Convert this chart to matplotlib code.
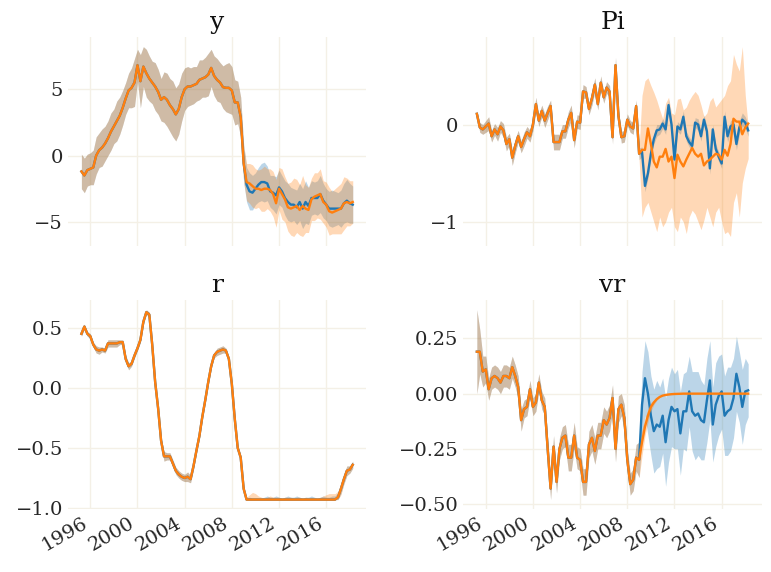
import numpy as np
import pandas as pd
import matplotlib
matplotlib.use('Agg')
import matplotlib.pyplot as plt
import matplotlib.dates as mdates

# quarterly sample, 1995Q2 - 2018Q2; paths coincide up to 2009Q1 (first 56 obs)
dates = pd.date_range('1995-04-01', periods=93, freq='QS')

# ---- y ----
y_hist = [-1.2, -1.5, -1.1, -1.0, -0.9, 0.0, 0.4, 0.6, 0.9, 1.3,
          1.8, 2.2, 2.6, 3.0, 3.6, 4.3, 4.9, 5.1, 5.5, 6.8,
          5.6, 6.7, 6.2, 5.8, 5.5, 5.2, 4.8, 4.2, 4.4, 4.2,
          3.8, 3.5, 3.1, 3.5, 4.4, 5.0, 5.2, 5.2, 5.3, 5.4,
          5.7, 5.8, 5.9, 6.1, 6.6, 6.0, 5.7, 5.5, 5.15, 5.1,
          5.1, 4.9, 4.0, 4.0, 2.9, -0.6]
y_blue_post = [-2.2, -2.7, -2.8, -2.5, -2.2, -2.0, -2.0, -2.1, -2.7, -2.8,
               -3.0, -2.4, -2.7, -3.2, -3.5, -3.7, -3.7, -3.9, -3.5, -4.0,
               -3.5, -3.8, -3.2, -3.2, -3.2, -2.9, -3.4, -3.7, -4.0, -4.0,
               -4.0, -4.0, -4.0, -3.6, -3.4, -3.6, -3.7]
y_orange_post = [-2.0, -2.1, -2.3, -2.5, -2.5, -2.6, -2.5, -2.5, -2.6, -2.9,
                 -3.6, -2.5, -2.9, -3.3, -3.9, -4.0, -3.9, -3.8, -4.1, -3.8,
                 -4.0, -4.1, -3.3, -3.1, -3.0, -2.9, -3.5, -3.7, -4.2, -4.3,
                 -4.2, -4.1, -4.0, -3.6, -3.5, -3.6, -3.5]
y_band_hist = [1.3, 1.3, 1.2, 1.2, 1.3, 1.4, 1.3, 1.4, 1.3, 1.3,
               1.4, 1.3, 1.5, 1.4, 1.3, 1.2, 1.3, 1.5, 1.8, 1.2,
               2.0, 1.5, 1.8, 1.7, 1.6, 1.8, 1.7, 1.6, 1.9, 2.0,
               2.0, 2.1, 2.0, 1.9, 1.8, 1.6, 1.5, 1.4, 1.4, 1.3,
               1.5, 1.4, 1.5, 1.6, 1.4, 1.5, 1.6, 1.5, 1.6, 1.8,
               1.9, 1.8, 1.7, 1.6, 1.5, 1.4]
y_band_blue_post = [1.3, 1.4, 1.3, 1.2, 1.3, 1.4, 1.5, 1.3, 1.2, 1.3,
                    1.4, 1.3, 1.2, 1.3, 1.4, 1.3, 1.2, 1.3, 1.4, 1.5,
                    1.6, 1.4, 1.3, 1.2, 1.3, 1.4, 1.3, 1.2, 1.3, 1.4,
                    1.3, 1.2, 1.4, 1.5, 1.6, 1.5, 1.4]
y_band_orange_post = [1.4, 1.5, 1.6, 1.5, 1.4, 1.6, 1.7, 1.5, 1.6, 1.7,
                      1.8, 1.6, 1.9, 1.7, 1.8, 2.0, 2.2, 2.0, 1.9, 2.3,
                      1.8, 1.7, 1.6, 1.8, 1.7, 1.9, 1.6, 1.7, 1.8, 1.6,
                      1.7, 1.8, 1.9, 2.0, 1.8, 1.7, 1.6]

# ---- Pi ----
pi_hist = [0.11, -0.03, -0.05, -0.02, 0.01, -0.12, -0.05, -0.10, -0.02, -0.06,
           -0.20, -0.15, -0.34, -0.22, -0.12, -0.23, -0.15, -0.08, -0.12, 0.0,
           0.21, 0.04, 0.14, 0.04, 0.12, 0.19, -0.18, -0.18, -0.18, -0.07,
           -0.07, 0.05, 0.12, -0.16, 0.03, 0.02, 0.34, 0.33, 0.16, 0.27,
           0.41, 0.21, 0.43, 0.28, 0.38, 0.34, -0.13, 0.61, 0.09, -0.13,
           -0.12, 0.05, -0.02, -0.04, 0.19, -0.30]
pi_blue_post = [-0.28, -0.63, -0.50, -0.30, -0.15, -0.06, -0.05, 0.01, -0.05, 0.20,
                0.0, -0.36, -0.02, -0.05, 0.08, -0.12, -0.18, -0.22, 0.02, 0.0,
                -0.12, 0.05, -0.07, -0.45, -0.05, -0.25, -0.33, -0.40, 0.08, -0.12,
                -0.02, 0.0, -0.20, -0.03, 0.05, 0.02, -0.06]
pi_orange_post = [-0.26, -0.26, -0.04, -0.20, -0.38, -0.44, -0.33, -0.33, -0.25, -0.38,
                  -0.33, -0.55, -0.31, -0.38, -0.43, -0.36, -0.30, -0.24, -0.30, -0.33,
                  -0.30, -0.42, -0.38, -0.36, -0.33, -0.30, -0.31, -0.36, -0.26, -0.32,
                  -0.20, 0.06, 0.03, 0.03, -0.10, -0.03, 0.01]
pi_band_hist = [0.03, 0.05, 0.05, 0.06, 0.07, 0.06, 0.06, 0.07, 0.06, 0.07,
                0.07, 0.06, 0.08, 0.07, 0.06, 0.06, 0.07, 0.06, 0.06, 0.06,
                0.07, 0.06, 0.06, 0.07, 0.07, 0.06, 0.08, 0.08, 0.08, 0.07,
                0.07, 0.08, 0.08, 0.08, 0.07, 0.07, 0.07, 0.06, 0.06, 0.07,
                0.07, 0.06, 0.07, 0.06, 0.06, 0.06, 0.07, 0.08, 0.06, 0.06,
                0.06, 0.06, 0.06, 0.06, 0.06, 0.06]
pi_band_blue_post = [0.05, 0.06, 0.05, 0.05, 0.05, 0.06, 0.05, 0.05, 0.05, 0.06,
                     0.05, 0.05, 0.05, 0.05, 0.06, 0.05, 0.05, 0.05, 0.05, 0.06,
                     0.05, 0.05, 0.05, 0.06, 0.05, 0.05, 0.05, 0.05, 0.06, 0.06,
                     0.06, 0.07, 0.06, 0.07, 0.07, 0.06, 0.06]
pi_orange_upper_post = [0.30, 0.45, 0.48, 0.40, 0.33, 0.25, 0.15, 0.06, 0.22, 0.28,
                        0.12, 0.10, 0.26, 0.27, 0.15, 0.18, 0.25, 0.30, 0.34, 0.30,
                        0.20, 0.08, 0.12, 0.24, 0.28, 0.18, 0.22, 0.26, 0.30, 0.40,
                        0.45, 0.72, 0.62, 0.55, 0.80, 0.30, -0.02]
pi_orange_lower_post = [-0.95, -0.85, -0.80, -0.90, -1.00, -1.10, -0.95, -1.05, -1.00, -0.90,
                        -0.85, -1.05, -1.10, -0.95, -1.00, -1.12, -0.95, -0.88, -0.92, -1.00,
                        -1.08, -0.98, -0.85, -0.95, -1.05, -0.90, -0.85, -1.00, -1.12, -1.10,
                        -1.15, -0.80, -0.70, -0.95, -0.60, -0.45, -0.35]

# ---- r ----
r_hist = [0.45, 0.51, 0.45, 0.43, 0.36, 0.32, 0.31, 0.32, 0.31, 0.37,
          0.37, 0.37, 0.37, 0.38, 0.38, 0.24, 0.18, 0.20, 0.27, 0.33,
          0.40, 0.55, 0.63, 0.61, 0.36, 0.05, -0.17, -0.44, -0.57, -0.57,
          -0.57, -0.63, -0.69, -0.72, -0.74, -0.75, -0.74, -0.76, -0.65, -0.52,
          -0.40, -0.24, -0.10, 0.05, 0.18, 0.27, 0.30, 0.31, 0.32, 0.31,
          0.24, 0.03, -0.26, -0.50, -0.58, -0.84]
r_post = [-0.93, -0.93, -0.93, -0.93, -0.93, -0.93, -0.93, -0.93, -0.93, -0.93,
          -0.93, -0.93, -0.93, -0.93, -0.93, -0.93, -0.93, -0.93, -0.93, -0.93,
          -0.93, -0.93, -0.93, -0.93, -0.93, -0.93, -0.93, -0.93, -0.93, -0.93,
          -0.93, -0.91, -0.84, -0.76, -0.69, -0.68, -0.64]
r_band_hist = [0.02, 0.02, 0.02, 0.02, 0.02, 0.03, 0.03, 0.02, 0.02, 0.03,
               0.03, 0.03, 0.03, 0.02, 0.02, 0.03, 0.03, 0.02, 0.02, 0.02,
               0.02, 0.02, 0.02, 0.02, 0.02, 0.02, 0.02, 0.03, 0.04, 0.03,
               0.03, 0.03, 0.03, 0.03, 0.03, 0.03, 0.04, 0.03, 0.03, 0.02,
               0.02, 0.02, 0.02, 0.02, 0.02, 0.02, 0.03, 0.03, 0.03, 0.02,
               0.02, 0.02, 0.02, 0.02, 0.02, 0.02]
r_band_blue_post = [0.01, 0.02, 0.01, 0.01, 0.01, 0.01, 0.02, 0.03, 0.02, 0.02,
                    0.03, 0.02, 0.01, 0.02, 0.03, 0.02, 0.02, 0.03, 0.02, 0.01,
                    0.02, 0.02, 0.03, 0.02, 0.01, 0.02, 0.03, 0.02, 0.02, 0.03,
                    0.03, 0.04, 0.04, 0.04, 0.04, 0.03, 0.03]
r_band_orange_post = [0.02, 0.04, 0.06, 0.05, 0.03, 0.02, 0.01, 0.02, 0.03, 0.02,
                      0.02, 0.02, 0.01, 0.02, 0.02, 0.02, 0.01, 0.02, 0.02, 0.01,
                      0.02, 0.01, 0.02, 0.01, 0.01, 0.02, 0.03, 0.04, 0.05, 0.05,
                      0.05, 0.05, 0.05, 0.04, 0.04, 0.03, 0.03]
r_floor = -0.93

# ---- vr ----
vr_hist = [0.19, 0.19, 0.10, 0.11, 0.02, 0.07, 0.08, 0.07, 0.05, 0.08,
           0.08, 0.07, 0.12, 0.08, 0.03, -0.12, -0.07, -0.06, 0.02, -0.06,
           -0.04, 0.05, -0.03, -0.06, -0.25, -0.43, -0.24, -0.40, -0.25, -0.20,
           -0.19, -0.29, -0.29, -0.19, -0.29, -0.30, -0.40, -0.40, -0.23, -0.20,
           -0.26, -0.19, -0.19, -0.12, -0.14, -0.11, -0.02, -0.25, -0.07, -0.05,
           -0.11, -0.30, -0.41, -0.39, -0.29, -0.30]
vr_blue_post = [-0.05, 0.07, 0.0, -0.10, -0.17, -0.14, -0.15, -0.10, -0.22, -0.12,
                -0.06, -0.08, -0.07, -0.18, -0.08, -0.08, 0.01, -0.08, -0.10, -0.09,
                -0.12, -0.13, -0.03, 0.06, -0.14, -0.05, -0.01, 0.01, -0.10, -0.08,
                -0.07, -0.02, 0.09, 0.03, -0.06, 0.01, 0.015]
vr_orange_post = [-0.22, -0.15, -0.10, -0.06, -0.04, -0.025, -0.015, -0.009, -0.006, -0.004,
                  -0.0025, -0.0015, -0.001, -0.0006, 0.0, 0.0, 0.0, 0.0, 0.0, 0.0,
                  0.0, 0.0, 0.0, 0.0, 0.0, 0.0, 0.0, 0.0, 0.0, 0.0,
                  0.0, 0.0, 0.0, 0.0, 0.0, 0.0, 0.0]
vr_band_hist = [0.19, 0.10, 0.07, 0.06, 0.05, 0.05, 0.05, 0.05, 0.05, 0.05,
                0.05, 0.05, 0.05, 0.05, 0.05, 0.05, 0.04, 0.04, 0.04, 0.04,
                0.04, 0.04, 0.04, 0.04, 0.05, 0.05, 0.05, 0.05, 0.05, 0.05,
                0.05, 0.06, 0.06, 0.06, 0.05, 0.05, 0.06, 0.06, 0.06, 0.06,
                0.06, 0.06, 0.06, 0.06, 0.06, 0.06, 0.06, 0.06, 0.06, 0.05,
                0.06, 0.05, 0.05, 0.05, 0.06, 0.08]
vr_band_blue_post = [0.15, 0.17, 0.19, 0.18, 0.19, 0.20, 0.18, 0.17, 0.20, 0.19,
                     0.18, 0.17, 0.18, 0.19, 0.17, 0.18, 0.16, 0.18, 0.20, 0.19,
                     0.18, 0.17, 0.19, 0.18, 0.17, 0.19, 0.18, 0.17, 0.18, 0.20,
                     0.19, 0.18, 0.17, 0.16, 0.17, 0.15, 0.12]
vr_band_orange_post = [0.06, 0.04, 0.03, 0.02, 0.01, 0.005, 0.0, 0.0, 0.0, 0.0,
                       0.0, 0.0, 0.0, 0.0, 0.0, 0.0, 0.0, 0.0, 0.0, 0.0,
                       0.0, 0.0, 0.0, 0.0, 0.0, 0.0, 0.0, 0.0, 0.0, 0.0,
                       0.0, 0.0, 0.0, 0.0, 0.0, 0.0, 0.0]

titles = ['y', 'Pi', 'r', 'vr']
yticks = [[-5, 0, 5], [-1, 0], [-1.0, -0.5, 0.0, 0.5], [-0.5, -0.25, 0.0, 0.25]]

blue = '#1f77b4'
orange = '#ff7f0e'


def join(a, b):
    out = np.array(a + b, dtype=float)
    assert len(out) == len(dates), len(out)
    return out


y_b, y_o = join(y_hist, y_blue_post), join(y_hist, y_orange_post)
y_bw, y_ow = join(y_band_hist, y_band_blue_post), join(y_band_hist, y_band_orange_post)

pi_b, pi_o = join(pi_hist, pi_blue_post), join(pi_hist, pi_orange_post)
pi_bw = join(pi_band_hist, pi_band_blue_post)
pi_h = np.array(pi_hist)
pi_band_h = np.array(pi_band_hist)
pi_o_lo = join(list(pi_h - pi_band_h), pi_orange_lower_post)
pi_o_hi = join(list(pi_h + pi_band_h), pi_orange_upper_post)

r_b, r_o = join(r_hist, r_post), join(r_hist, r_post)
r_bw, r_ow = join(r_band_hist, r_band_blue_post), join(r_band_hist, r_band_orange_post)

vr_b, vr_o = join(vr_hist, vr_blue_post), join(vr_hist, vr_orange_post)
vr_bw, vr_ow = join(vr_band_hist, vr_band_blue_post), join(vr_band_hist, vr_band_orange_post)

panels = [
    (y_b, y_b - y_bw, y_b + y_bw, y_o, y_o - y_ow, y_o + y_ow),
    (pi_b, pi_b - pi_bw, pi_b + pi_bw, pi_o, pi_o_lo, pi_o_hi),
    (r_b, np.maximum(r_b - r_bw, r_floor), r_b + r_bw,
     r_o, np.maximum(r_o - r_ow, r_floor), r_o + r_ow),
    (vr_b, vr_b - vr_bw, vr_b + vr_bw, vr_o, vr_o - vr_ow, vr_o + vr_ow),
]

plt.rcParams['font.family'] = 'DejaVu Serif'
fig, axes = plt.subplots(2, 2, figsize=(7.71, 5.72), dpi=100, sharex=True)

for ax, title, yt, (b, b_lo, b_hi, o, o_lo, o_hi) in zip(axes.flat, titles, yticks, panels):
    ax.fill_between(dates, b_lo, b_hi, color=blue, alpha=0.3, lw=0)
    ax.fill_between(dates, o_lo, o_hi, color=orange, alpha=0.3, lw=0)
    ax.plot(dates, b, color=blue, lw=1.7)
    ax.plot(dates, o, color=orange, lw=1.7)
    ax.set_title(title, fontsize=18, color='#111111')
    ax.set_yticks(yt)
    for s in ax.spines.values():
        s.set_visible(False)
    ax.grid(color='#f4f0e6', lw=1)
    ax.set_axisbelow(True)
    ax.tick_params(length=0, labelsize=14, colors='#262626')
    ax.xaxis.set_major_locator(mdates.YearLocator(4))
    ax.xaxis.set_major_formatter(mdates.DateFormatter('%Y'))

for ax in axes[1]:
    for lab in ax.get_xticklabels():
        lab.set_rotation(30)
        lab.set_ha('right')

fig.subplots_adjust(left=0.088, right=0.988, top=0.935, bottom=0.11,
                    wspace=0.325, hspace=0.26)
fig.savefig('out.png', dpi=100)
